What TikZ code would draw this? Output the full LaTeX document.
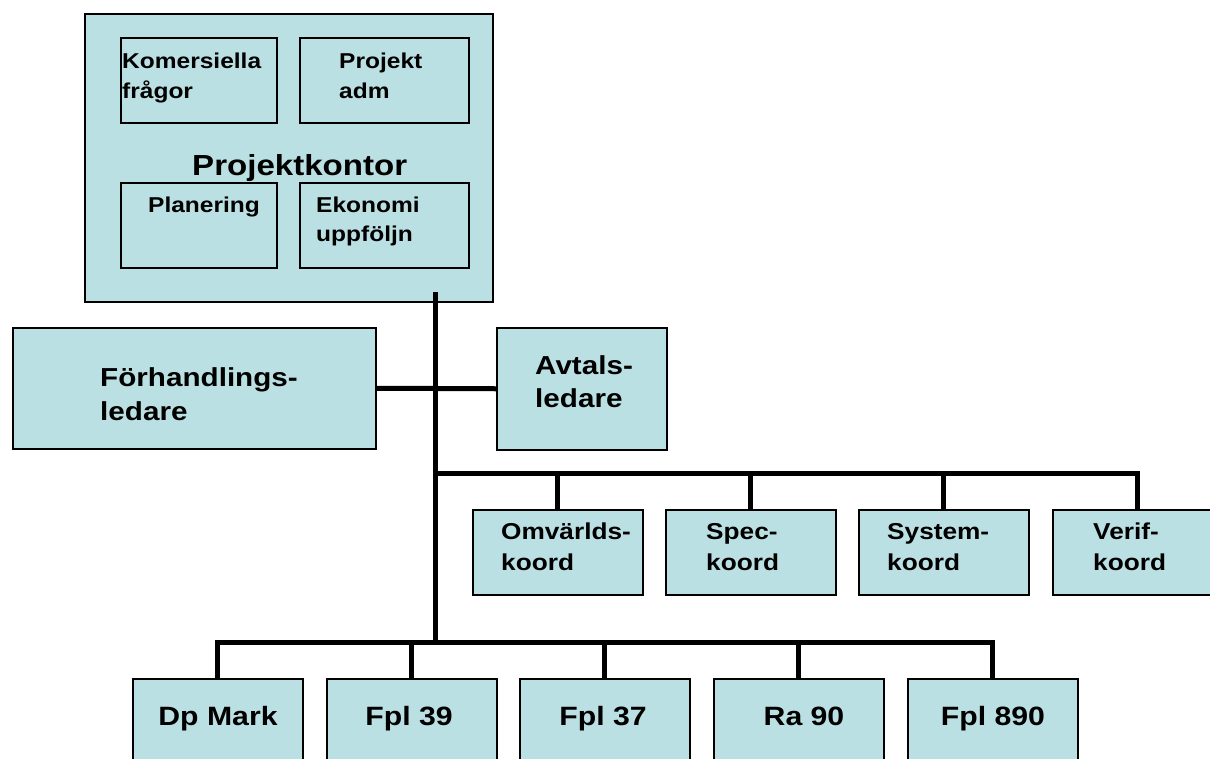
\documentclass[tikz,border=0pt]{standalone}
\usepackage{fontspec}
\setmainfont[FakeStretch=1.14]{Liberation Sans}
\definecolor{boxblue}{RGB}{187,224,227}
\begin{document}
\begin{tikzpicture}[x=1pt,y=-1pt,
	box/.style={draw,line width=1.5pt,fill=boxblue,inner sep=0pt,anchor=north west},
	conn/.style={line width=5pt},
	txt/.style={inner sep=0pt,anchor=base west,align=left,font=\bfseries#1},
	]
			\useasboundingbox (0,0) rectangle (1210,758);
			\clip (0,0) rectangle (1210,758);
			% 上の箱
			\node[box,minimum width=408pt,minimum height=288pt] (PK) at (84,13) {};
			\node[box,minimum width=156pt,minimum height=85pt] (KOM) at (120,37) {};
			\node[box,minimum width=169pt,minimum height=85pt] (ADM) at (299,37) {};
			\node[box,minimum width=156pt,minimum height=85pt] (PLAN) at (120,182) {};
			\node[box,minimum width=169pt,minimum height=85pt] (EKO) at (299,182) {};
			\node[txt=\fontsize{21.5}{30}\selectfont] (KOMt) at (122,98) {Komersiella\\frågor};%"最後の行の基線"
			\node[txt=\fontsize{21.5}{30}\selectfont] (ADMt) at (339,98) {Projekt\\adm};
			\node[txt=\fontsize{21.5}{30}\selectfont] (PLANt) at (148,212) {Planering};
			\node[txt=\fontsize{21.5}{29}\selectfont] (EKOt) at (316,241) {Ekonomi\\uppföljn};
			\node[txt=\fontsize{29}{34}\selectfont] (PKt) at (192,175) {Projektkontor};
			% 中の箱
			\node[box,minimum width=363pt,minimum height=121pt] (FH) at (12,327) {};
			\node[box,minimum width=170pt,minimum height=122pt] (AVT) at (496,327) {};
			\node[txt=\fontsize{26}{34}\selectfont] (FHt) at (100,420) {Förhandlings-\\ledare};
			\node[txt=\fontsize{26}{33}\selectfont] (AVTt) at (535,407) {Avtals-\\ledare};
			% koord
			\node[box,minimum width=170pt,minimum height=85pt] (OMV) at (472,509) {};
			\node[box,minimum width=170pt,minimum height=85pt] (SPEC) at (665,509) {};
			\node[box,minimum width=170pt,minimum height=85pt] (SYS) at (858,509) {};
			\node[box,minimum width=170pt,minimum height=85pt] (VER) at (1052,509) {};
			\node[txt=\fontsize{23}{31}\selectfont] (OMVt) at (501,570) {Omvärlds-\\koord};
			\node[txt=\fontsize{23}{31}\selectfont] (SPECt) at (706,570) {Spec-\\koord};
			\node[txt=\fontsize{23}{31}\selectfont] (SYSt) at (887,570) {System-\\koord};
			\node[txt=\fontsize{23}{31}\selectfont] (VERt) at (1093,570) {Verif-\\koord};
			% 下の箱
			\node[box,minimum width=170pt,minimum height=110pt] (DP) at (132,678) {};
			\node[box,minimum width=170pt,minimum height=110pt] (F39) at (326,678) {};
			\node[box,minimum width=170pt,minimum height=110pt] (F37) at (519,678) {};
			\node[box,minimum width=170pt,minimum height=110pt] (RA) at (713,678) {};
			\node[box,minimum width=170pt,minimum height=110pt] (F890) at (907,678) {};
			\node[txt=\fontsize{26.5}{30}\selectfont,anchor=base] (DPt) at (218,725) {Dp Mark};
			\node[txt=\fontsize{26.5}{30}\selectfont,anchor=base] (F39t) at (409,725) {Fpl 39};
			\node[txt=\fontsize{26.5}{30}\selectfont,anchor=base] (F37t) at (603,725) {Fpl 37};
			\node[txt=\fontsize{26.5}{30}\selectfont,anchor=base] (RAt) at (804,725) {Ra 90};
			\node[txt=\fontsize{26.5}{30}\selectfont,anchor=base] (F890t) at (993,725) {Fpl 890};
			% 線
			\coordinate (T0) at (435,292);
			\coordinate (K0) at (435,473);
			\coordinate (B0) at (435,642);
			\draw[conn] (T0)--(B0);
			\draw[conn] (FH.east)--(AVT.west);
			\draw[conn] (K0)-|(VER.north);
			\draw[conn] (OMV.north)--(OMV.north|-K0);
			\draw[conn] (SPEC.north)--(SPEC.north|-K0);
			\draw[conn] (SYS.north)--(SYS.north|-K0);
			\draw[conn] (DP.north)|-(F890.north|-B0)--(F890.north);
			\draw[conn] (F39.north)--(F39.north|-B0);
			\draw[conn] (F37.north)--(F37.north|-B0);
			\draw[conn] (RA.north)--(RA.north|-B0);
		\end{tikzpicture}
\end{document}
